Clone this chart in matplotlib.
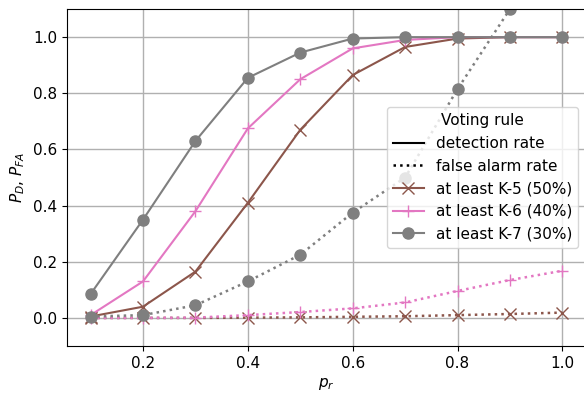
import matplotlib
matplotlib.use("Agg")
import matplotlib.pyplot as plt
from matplotlib.lines import Line2D

# data
p_r = [0.1, 0.2, 0.3, 0.4, 0.5, 0.6, 0.7, 0.8, 0.9, 1.0]

pd_k5 = [0.005, 0.04, 0.165, 0.41, 0.67, 0.865, 0.965, 0.995, 1.0, 1.0]
pd_k6 = [0.01, 0.13, 0.38, 0.675, 0.85, 0.96, 0.99, 1.0, 1.0, 1.0]
pd_k7 = [0.085, 0.35, 0.63, 0.855, 0.945, 0.995, 1.0, 1.0, 1.0, 1.0]

pfa_k5 = [0.0, 0.0, 0.0, 0.001, 0.002, 0.004, 0.006, 0.01, 0.014, 0.019]
pfa_k6 = [0.0, 0.0, 0.001, 0.01, 0.021, 0.034, 0.055, 0.096, 0.135, 0.168]
pfa_k7 = [0.005, 0.01, 0.045, 0.13, 0.225, 0.375, 0.5, 0.815, 1.1, 1.3]

labels = ["at least K-5 (50%)", "at least K-6 (40%)", "at least K-7 (30%)"]
colors = ["tab:brown", "tab:pink", "tab:gray"]
markers = ["x", "+", "o"]

plt.rcParams["font.size"] = 11

fig = plt.figure(figsize=(5.84, 3.94), dpi=100)
ax = fig.add_axes([0.1147, 0.1218, 0.8887, 0.8552])

handles = []
for pd, pfa, lab, col, mk in zip([pd_k5, pd_k6, pd_k7], [pfa_k5, pfa_k6, pfa_k7],
                                 labels, colors, markers):
    ms = 8
    h, = ax.plot(p_r, pd, "-", color=col, marker=mk, markersize=ms, label=lab)
    ax.plot(p_r, pfa, ":", color=col, marker=mk, markersize=ms, linewidth=1.8)
    handles.append(h)

style_handles = [Line2D([], [], color="black", linestyle="-", label="detection rate"),
                 Line2D([], [], color="black", linestyle=":", linewidth=1.8, label="false alarm rate")]

ax.legend(handles=style_handles + handles, title="Voting rule", loc="center right",
          fontsize=11, title_fontsize=11)

ax.set_xlim(0.055, 1.045)
ax.set_ylim(-0.1, 1.1)
ax.set_xticks([0.2, 0.4, 0.6, 0.8, 1.0])
ax.set_yticks([0.0, 0.2, 0.4, 0.6, 0.8, 1.0])
ax.grid(True, linewidth=1)
ax.set_xlabel("$p_r$")
ax.set_ylabel("$P_D$, $P_{FA}$")

fig.savefig("out.png", dpi=100)
